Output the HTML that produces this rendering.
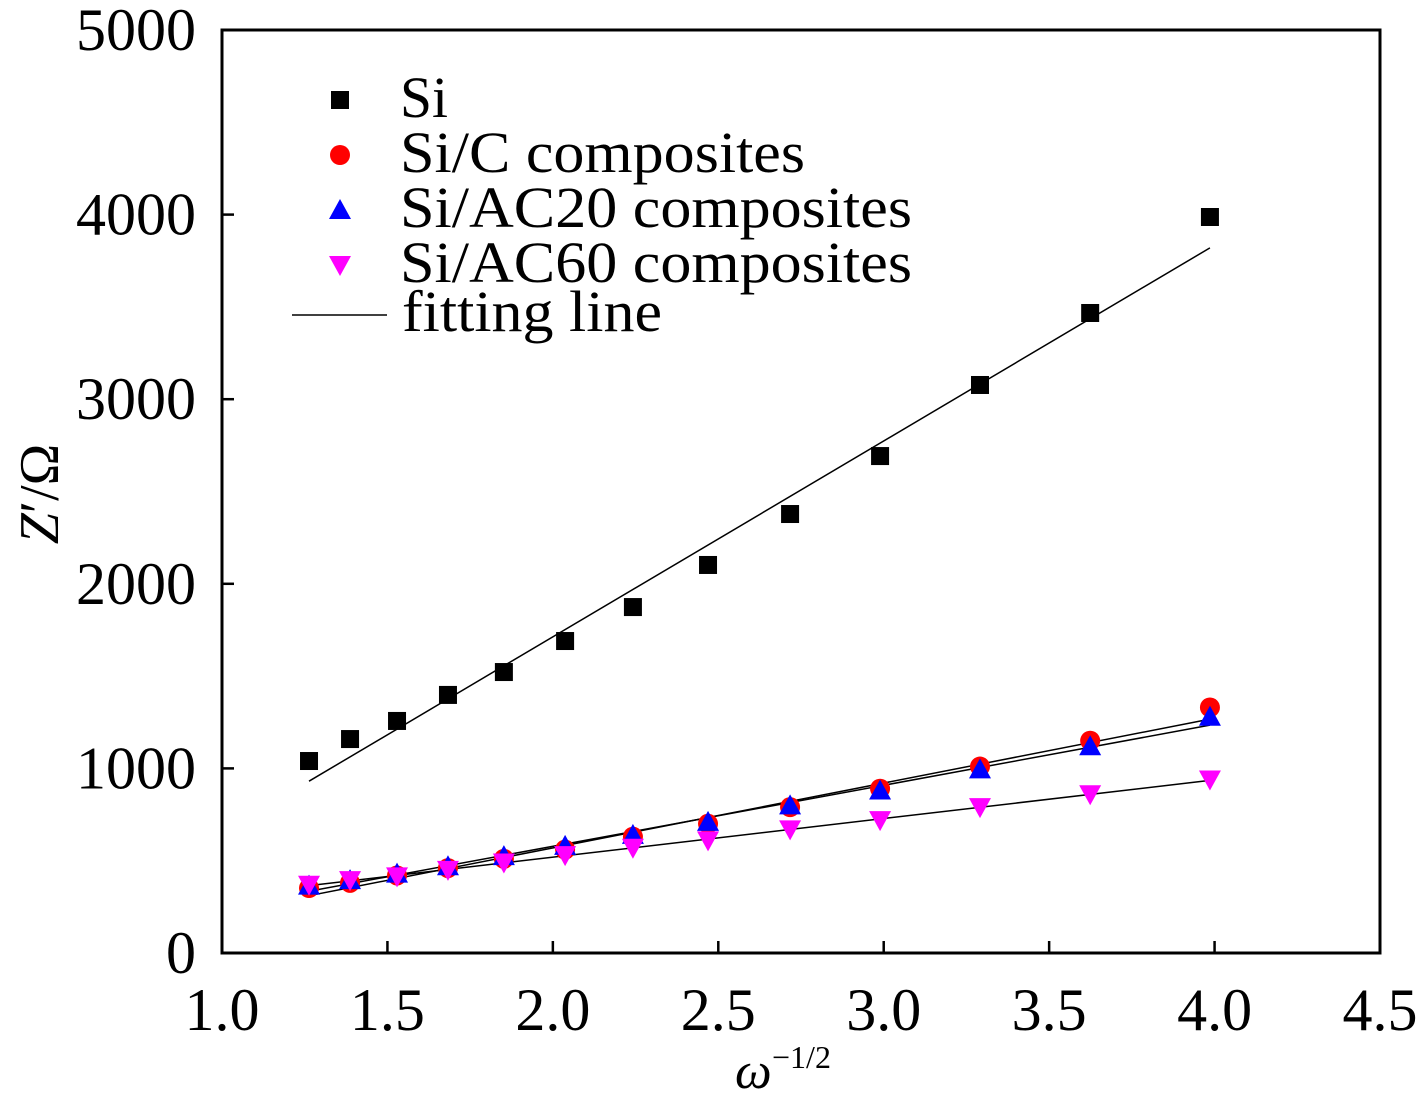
<!DOCTYPE html>
<html><head><meta charset="utf-8"><style>
body{margin:0;background:#fff;}
svg text{font-family:"Liberation Serif",serif;fill:#000;}
</style></head><body>
<svg id="chart" width="1417" height="1098"></svg>
<script>
const xVals=[1.263,1.387,1.529,1.683,1.852,2.037,2.242,2.469,2.717,2.989,3.291,3.624,3.986];
const siVals=[1040,1159,1257,1398,1522,1690,1874,2102,2378,2692,3077,3467,3987];
const siCVals=[352,380,420,460,510,560,630,700,790,890,1010,1150,1330];
const ac20Vals=[365,395,430,470,525,580,640,710,800,880,995,1120,1280];
const ac60Vals=[370,395,415,450,490,530,570,610,670,720,790,860,940];
const xTicks=[1.0,1.5,2.0,2.5,3.0,3.5,4.0,4.5];
const yTicks=[0,1000,2000,3000,4000,5000];
const L=222,R=1380,T=30,B=953;
const sx=v=>L+(v-1)/3.5*(R-L);
const sy=v=>B-v/5000*(B-T);
const svg=document.getElementById('chart');
const NS='http://www.w3.org/2000/svg';
function mk(t,a,p){const e=document.createElementNS(NS,t);for(const k in a)e.setAttribute(k,a[k]);(p||svg).appendChild(e);return e;}
const frame=mk('rect',{x:L,y:T,width:R-L,height:B-T,fill:'none',stroke:'#000','stroke-width':3});


xTicks.forEach(v=>{
  const l=mk('line',{x1:sx(v),x2:sx(v),y1:B,y2:B-12,stroke:'#000','stroke-width':2.5});
  
  
  const t=mk('text',{x:sx(v),y:1030,'font-size':60,'text-anchor':'middle'});t.textContent=v.toFixed(1);
  
  
});
yTicks.forEach(v=>{
  const l=mk('line',{x1:L,x2:L+12,y1:sy(v),y2:sy(v),stroke:'#000','stroke-width':2.5});
  
  
  const t=mk('text',{x:196,y:sy(v)+20,'font-size':60,'text-anchor':'end'});t.textContent=v;
  
  
});
function fit(ys){const n=xVals.length;let mx=0,my=0;for(let i=0;i<n;i++){mx+=xVals[i];my+=ys[i];}mx/=n;my/=n;let a=0,b=0;for(let i=0;i<n;i++){a+=(xVals[i]-mx)*(ys[i]-my);b+=(xVals[i]-mx)**2;}const m=a/b;return x=>my+m*(x-mx);}
[siVals,siCVals,ac20Vals,ac60Vals].forEach(ys=>{
  const f=fit(ys);const x0=xVals[0],x1=xVals[xVals.length-1];
  const l=mk('line',{x1:sx(x0),y1:sy(f(x0)),x2:sx(x1),y2:sy(f(x1)),stroke:'#000','stroke-width':1.5});
  
  
});
function marker(type,cx,cy,color){
  let e;
  if(type==='sq')e=mk('rect',{x:cx-9,y:cy-9,width:18,height:18,fill:color});
  else if(type==='ci')e=mk('circle',{cx:cx,cy:cy,r:10,fill:color});
  else if(type==='up')e=mk('polygon',{points:`${cx},${cy-11} ${cx-11},${cy+9} ${cx+11},${cy+9}`,fill:color});
  else e=mk('polygon',{points:`${cx},${cy+11} ${cx-11},${cy-9} ${cx+11},${cy-9}`,fill:color});
  return e;
}
const series=[['sq','#000',siVals,'si'],['ci','#f00',siCVals,'si-c'],['up','#00f',ac20Vals,'si-ac20'],['dn','#f0f',ac60Vals,'si-ac60']];
series.forEach(([t,c,ys,n])=>{
  ys.forEach((y,i)=>{const e=marker(t,sx(xVals[i]),sy(y),c);
    
    });
});
const legendLabels=['Si','Si/C composites','Si/AC20 composites','Si/AC60 composites'];
const legendWidths=[48,405,512,512];
const legendY=[100,155,210,265];
series.forEach(([t,c],i)=>{
  const m=marker(t,340,legendY[i],c);
  
  
  const tx=mk('text',{x:400,y:legendY[i]+17,'font-size':58,textLength:legendWidths[i],lengthAdjust:'spacingAndGlyphs'});tx.textContent=legendLabels[i];
  
  
});
const ll=mk('line',{x1:292,x2:387,y1:315,y2:315,stroke:'#000','stroke-width':1.5});


const lt=mk('text',{x:402,y:331,'font-size':58,textLength:260,lengthAdjust:'spacingAndGlyphs'});lt.textContent='fitting line';


const xt=mk('text',{x:735,y:1088,'font-size':52,'font-style':'italic'});xt.textContent='ω';


const xs=mk('text',{x:772,y:1068,'font-size':32});xs.textContent='−1/2';


const yt=mk('text',{x:0,y:0,'font-size':56,transform:'translate(58,494) rotate(-90)','text-anchor':'middle'});
yt.innerHTML='<tspan font-style="italic">Z</tspan>′/Ω';


</script>
</body></html>
